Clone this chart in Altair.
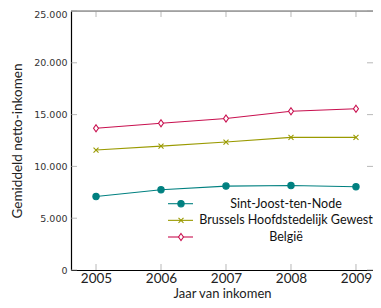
import altair as alt
import pandas as pd

years = [2005, 2006, 2007, 2008, 2009]
series_names = ["Sint-Joost-ten-Node", "Brussels Hoofdstedelijk Gewest", "België"]
sint_joost = [7090, 7740, 8100, 8150, 8030]
brussels = [11580, 11960, 12350, 12800, 12800]
belgie = [13680, 14160, 14620, 15320, 15570]
y_ticks = [0, 5000, 10000, 15000, 20000, 25000]

colors = ["#008080", "#9a9a00", "#c8104f"]
fills = ["#008080", "#ffffff", "#ffffff"]
plot_shapes = ["circle", "M-1,-1L1,1M-1,1L1,-1", "M0,-1.2L0.85,0L0,1.2L-0.85,0Z"]
plot_sizes = [40, 25, 34]

rows = []
for name, vals in zip(series_names, [sint_joost, brussels, belgie]):
    for yr, v in zip(years, vals):
        rows.append({"year": yr, "value": v, "series": name})
df = pd.DataFrame(rows)
yt = pd.DataFrame({"v": y_ticks})
xt = pd.DataFrame({"year": years})
leg_df = pd.DataFrame({"series": series_names})
one = pd.DataFrame({"k": [0]})

W, H = 302, 259
xscale = alt.Scale(domain=[2004.615, 2009.262], nice=False, zero=False)
yscale = alt.Scale(domain=[0, 25000], nice=False, zero=False)
cscale = alt.Scale(domain=series_names, range=colors)

X = alt.X("year:Q", scale=xscale, axis=alt.Axis(
    values=years, format="d", ticks=False, grid=False, domainColor="#000",
    domainWidth=1.2, labelFont="Lato", labelFontSize=13.5, labelColor="#222",
    labelPadding=1, title="Jaar van inkomen", titleFont="Lato", titleFontSize=13,
    titleFontWeight="normal", titleColor="#222", titleBaseline="alphabetic", titleY=27))
Y = alt.Y("value:Q", scale=yscale, axis=alt.Axis(
    values=y_ticks, ticks=False, grid=False, domainColor="#000", domainWidth=1.2,
    labelExpr="replace(format(datum.value, ','), ',', '.')",
    labelOffset={"condition": {"test": "datum.value == 25000", "value": 3}, "value": 0},
    labelFont="DejaVu Sans", labelFontSize=9.5, labelColor="#333", labelPadding=4,
    title="Gemiddeld netto-inkomen", titleFont="Lato", titleFontSize=13.5,
    titleFontWeight="normal", titleColor="#222", titleBaseline="middle",
    titleX=-54, titleY=129.5))
Xp = alt.X("year:Q", scale=xscale)
Yp = alt.Y("value:Q", scale=yscale)

lines = alt.Chart(df).mark_line(strokeWidth=1.1).encode(
    x=X, y=Y, color=alt.Color("series:N", scale=cscale, legend=None))

markers = []
for i, name in enumerate(series_names):
    markers.append(
        alt.Chart(df).transform_filter(alt.datum.series == name).mark_point(
            shape=plot_shapes[i], size=plot_sizes[i], filled=False,
            stroke=colors[i], fill=fills[i], fillOpacity=1, opacity=1, strokeWidth=1.1,
        ).encode(x=Xp, y=Yp)
    )

tick_color = "#9a9a9a"
ytick_l = alt.Chart(yt).mark_tick(size=6, thickness=1, color=tick_color, orient="horizontal").encode(
    y=alt.Y("v:Q", scale=yscale), x=alt.value(3))
ytick_r = alt.Chart(yt).mark_tick(size=6, thickness=1, color=tick_color, orient="horizontal").encode(
    y=alt.Y("v:Q", scale=yscale), x=alt.value(W - 3))
xtick_b = alt.Chart(xt).mark_tick(size=6, thickness=1, color=tick_color, orient="vertical").encode(
    x=alt.X("year:Q", scale=xscale), y=alt.value(H - 3))
xtick_t = alt.Chart(xt).mark_tick(size=6, thickness=1, color=tick_color, orient="vertical").encode(
    x=alt.X("year:Q", scale=xscale), y=alt.value(3))
top_frame = alt.Chart(one).mark_rule(color="#666", strokeWidth=1.2).encode(
    x=alt.value(0), x2=alt.value(W), y=alt.value(0))

main = alt.layer(top_frame, ytick_l, ytick_r, xtick_b, xtick_t, lines, *markers)

# legend (manual): rows placed by a point scale
Yl = alt.Y("series:N", scale=alt.Scale(type="point", domain=series_names, range=[192.7, 226], padding=0), axis=None)
leg_rule = alt.Chart(leg_df).mark_rule(strokeWidth=1.1).encode(
    x=alt.value(97), x2=alt.value(122), y=Yl,
    color=alt.Color("series:N", scale=cscale, legend=None))
leg_pts = []
for i, name in enumerate(series_names):
    leg_pts.append(
        alt.Chart(leg_df).transform_filter(alt.datum.series == name).mark_point(
            shape=plot_shapes[i], size=plot_sizes[i], filled=False,
            stroke=colors[i], fill=fills[i], fillOpacity=1, opacity=1, strokeWidth=1.1,
        ).encode(x=alt.value(110), y=Yl)
    )
leg_text = alt.Chart(leg_df).mark_text(
    align="center", baseline="middle", font="Lato", fontSize=12.5, color="#111"
).encode(x=alt.value(215), y=Yl, text="series:N")
leg = alt.layer(leg_rule, *leg_pts, leg_text)

chart = alt.layer(main, leg).resolve_scale(y="independent").properties(
    width=W, height=H,
    autosize=alt.AutoSizeParams(type="none"),
    padding={"left": 63, "top": 3, "right": 0, "bottom": 30},
).configure_view(strokeWidth=0).configure(background="white")

chart.save("out.html", embed_options={"renderer": "svg", "actions": False})
